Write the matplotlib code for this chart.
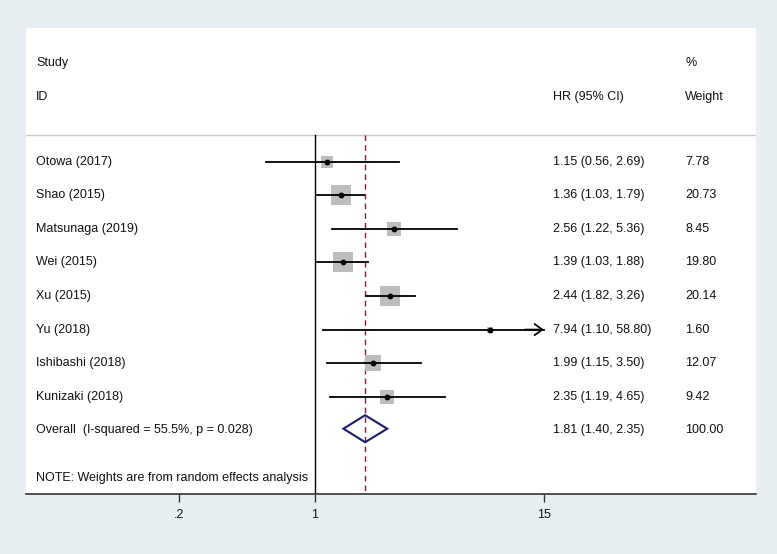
import numpy as np
import matplotlib
matplotlib.use("Agg")
import matplotlib.pyplot as plt
from matplotlib.patches import Polygon
from matplotlib.transforms import blended_transform_factory

# ---- data ----
studies = ["Otowa (2017)", "Shao (2015)", "Matsunaga (2019)", "Wei (2015)", "Xu (2015)",
           "Yu (2018)", "Ishibashi (2018)", "Kunizaki (2018)"]
hr = [1.15, 1.36, 2.56, 1.39, 2.44, 7.94, 1.99, 2.35]
lo = [0.56, 1.03, 1.22, 1.03, 1.82, 1.10, 1.15, 1.19]
hi = [2.69, 1.79, 5.36, 1.88, 3.26, 58.80, 3.50, 4.65]
weights = [7.78, 20.73, 8.45, 19.80, 20.14, 1.60, 12.07, 9.42]
overall_label = "Overall  (I-squared = 55.5%, p = 0.028)"
overall = (1.81, 1.40, 2.35)
overall_weight = 100.00
xticks = [0.2, 1, 15]
xtick_labels = [".2", "1", "15"]
note = "NOTE: Weights are from random effects analysis"

BG = "#E8EFF2"
FONT = ["Liberation Sans", "DejaVu Sans"]
plt.rcParams['font.family'] = FONT

fig = plt.figure(figsize=(7.77, 5.54), dpi=100, facecolor=BG)
W, H = 777, 554
px_left, px_right, px_top, px_bot = 26, 756, 28, 494
ax = fig.add_axes([px_left / W, (H - px_bot) / H, (px_right - px_left) / W, (px_bot - px_top) / H])
ax.set_facecolor("white")
ax.set_xscale("log")

# x limits from pixel mapping: x=1 at px 315, 84.5 px per ln unit
ppl = 84.5
x1px = 315
ax.set_xlim(np.exp((px_left - x1px) / ppl), np.exp((px_right - x1px) / ppl))
row0, step = 161.6, 33.6
ax.set_ylim((px_bot - row0) / step, (px_top - row0) / step)

n = len(studies)
clip_at = 15.0
fontsize = 9.0

y_study = (63 - row0) / step
y_id = (97 - row0) / step
y_sep = (135 - row0) / step
y_note = (478 - row0) / step
span = px_right - px_left
tx_lab = (36 - px_left) / span
tx_hr = (553 - px_left) / span
tx_w = (685 - px_left) / span
bt = blended_transform_factory(ax.transAxes, ax.transData)

def put(x, y, s):
    ax.text(x, y, s, transform=bt, va="center", ha="left", fontsize=fontsize, color="#111111")

put(tx_lab, y_study, "Study")
put(tx_lab, y_id, "ID")
put(tx_hr, y_id, "HR (95% CI)")
put(tx_w, y_study, "%")
put(tx_w, y_id, "Weight")

ax.axhline(y_sep, color="#C8C8C8", lw=1.0)

ybottom = ax.get_ylim()[0]
ax.plot([1, 1], [y_sep, ybottom], color="black", lw=1.0, zorder=2)
ax.plot([overall[0], overall[0]], [y_sep, ybottom], color="#8E1B22", lw=1.0,
        dashes=(4, 3), zorder=2)

for i in range(n):
    y = i
    side_px = 4.61 * np.sqrt(weights[i])
    ax.plot(hr[i], y, marker="s", markersize=side_px * 0.72, color="#BDBDBD",
            markeredgewidth=0, zorder=3)
    if hi[i] > clip_at:
        ax.plot([lo[i], clip_at], [y, y], color="black", lw=1.3, zorder=4)
        ax.annotate("", xy=(clip_at, y), xytext=(clip_at * 0.8, y),
                    arrowprops=dict(arrowstyle="->,head_length=0.55,head_width=0.4",
                                    color="black", lw=1.3, shrinkA=0, shrinkB=0), zorder=4)
    else:
        ax.plot([lo[i], hi[i]], [y, y], color="black", lw=1.3, zorder=4)
    ax.plot(hr[i], y, marker="o", markersize=3.2, color="black", zorder=5)
    put(tx_lab, y, studies[i])
    put(tx_hr, y, f"{hr[i]:.2f} ({lo[i]:.2f}, {hi[i]:.2f})")
    put(tx_w, y, f"{weights[i]:.2f}")

# overall diamond
yo = n - 0.05
hh = 13.5 / step
diamond = Polygon([(overall[1], yo), (overall[0], yo - hh), (overall[2], yo), (overall[0], yo + hh)],
                  closed=True, fill=False, edgecolor="#1A1A6E", lw=1.5, zorder=5)
ax.add_patch(diamond)
put(tx_lab, n, overall_label)
put(tx_hr, n, f"{overall[0]:.2f} ({overall[1]:.2f}, {overall[2]:.2f})")
put(tx_w, n, f"{overall_weight:.2f}")

put(tx_lab, y_note, note)

for s in ["top", "left", "right"]:
    ax.spines[s].set_visible(False)
ax.spines["bottom"].set_color("#333333")
ax.spines["bottom"].set_linewidth(1.2)
ax.set_yticks([])
ax.set_xticks(xticks)
ax.set_xticklabels(xtick_labels, fontsize=fontsize, color="#111111")
ax.minorticks_off()
ax.tick_params(axis="x", direction="out", length=6, width=1, color="#333333", pad=5)

fig.savefig("out.png", dpi=100, facecolor=BG)
